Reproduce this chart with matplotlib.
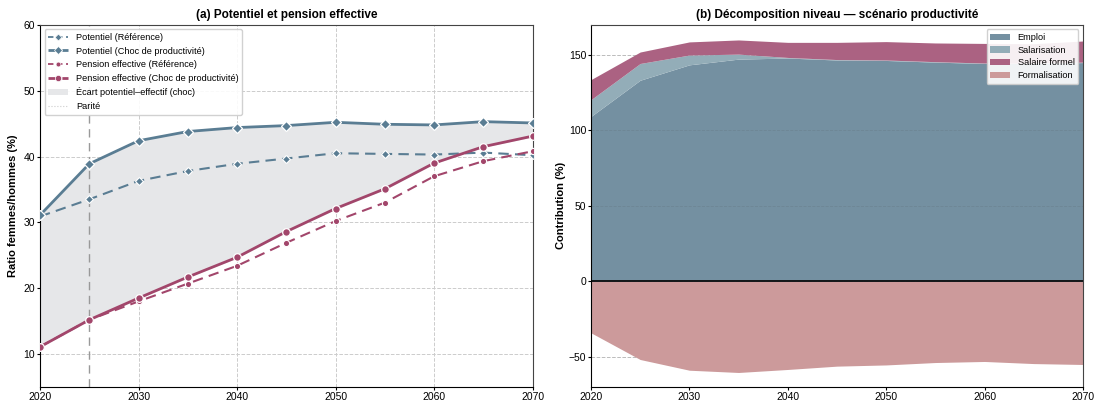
import matplotlib
matplotlib.use("Agg")
import matplotlib.pyplot as plt
from matplotlib.lines import Line2D
from matplotlib.patches import Patch
import numpy as np

plt.rcParams['font.family'] = ['Liberation Sans', 'DejaVu Sans']

years = [2020, 2025, 2030, 2035, 2040, 2045, 2050, 2055, 2060, 2065, 2070]

pot_ref = [30.9, 33.5, 36.3, 37.8, 38.9, 39.7, 40.5, 40.4, 40.3, 40.6, 40.2]
pot_choc = [31.1, 38.9, 42.4, 43.8, 44.4, 44.7, 45.2, 44.9, 44.8, 45.3, 45.1]
pen_ref = [11.1, 15.2, 18.0, 20.7, 23.4, 26.9, 30.2, 33.0, 37.0, 39.3, 40.8]
pen_choc = [11.1, 15.2, 18.5, 21.7, 24.7, 28.6, 32.1, 35.1, 39.0, 41.5, 43.1]

emploi = [109.3, 133.3, 143.5, 147.3, 148.0, 146.7, 146.4, 145.3, 144.4, 144.4, 145.0]
salarisation = [11.1, 11.1, 6.5, 3.3, 0.4, 0.3, 0.3, 0.3, 0.3, 0.3, 0.3]
salaire_formel = [13.3, 7.6, 8.7, 9.4, 10.0, 11.4, 12.2, 12.4, 13.0, 12.8, 14.0]
formalisation = [-34.1, -51.8, -58.9, -60.4, -58.4, -56.2, -55.4, -53.8, -53.1, -54.5, -55.1]

BLUE = '#5a7d93'
PINK = '#a2466b'

fig = plt.figure(figsize=(10.97, 4.01), dpi=100)
ax1 = fig.add_axes([0.0365, 0.035, 0.449, 0.903])
ax2 = fig.add_axes([0.5387, 0.035, 0.4485, 0.903])

# ---- Panel a
ax1.grid(True, linestyle='--', color='#cccccc', linewidth=0.7)
ax1.set_axisbelow(True)
ax1.fill_between(years, pen_choc, pot_choc, color='#e6e7e9', zorder=1)
ax1.axvline(2025, color='#999999', linestyle=(0, (6, 4)), linewidth=1.0, zorder=1.5)
ax1.axhline(100, color='#cccccc', linestyle=':', linewidth=0.8)
ax1.plot(years, pot_ref, color=BLUE, linestyle=(0, (5, 3)), linewidth=1.5, marker='D',
         markersize=4.5, markeredgecolor='white', markeredgewidth=0.8, zorder=3)
ax1.plot(years, pot_choc, color=BLUE, linestyle='-', linewidth=2.0, marker='D',
         markersize=5.5, markeredgecolor='white', markeredgewidth=0.9, zorder=3)
ax1.plot(years, pen_ref, color=PINK, linestyle=(0, (5, 3)), linewidth=1.5, marker='o',
         markersize=4.5, markeredgecolor='white', markeredgewidth=0.8, zorder=3)
ax1.plot(years, pen_choc, color=PINK, linestyle='-', linewidth=2.0, marker='o',
         markersize=5.5, markeredgecolor='white', markeredgewidth=0.9, zorder=3)
ax1.set_xlim(2020, 2070)
ax1.set_ylim(5, 60)
ax1.set_yticks([10, 20, 30, 40, 50, 60])
ax1.set_xticks([2020, 2030, 2040, 2050, 2060, 2070])
ax1.set_ylabel('Ratio femmes/hommes (%)', fontsize=8, fontweight='bold', labelpad=4)
ax1.set_title('(a) Potentiel et pension effective', fontsize=8.5, fontweight='bold', pad=5)
ax1.tick_params(labelsize=7.5, length=2, pad=1.5)

handles = [
    Line2D([], [], color=BLUE, linestyle=(0, (3, 2)), linewidth=1.3, marker='D', markersize=3.5,
           markeredgecolor='white', markeredgewidth=0.5),
    Line2D([], [], color=BLUE, linestyle=(0, (3, 2)), linewidth=2.0, marker='D', markersize=4.5,
           markeredgecolor='white', markeredgewidth=0.5),
    Line2D([], [], color=PINK, linestyle=(0, (3, 2)), linewidth=1.3, marker='o', markersize=3.5,
           markeredgecolor='white', markeredgewidth=0.5),
    Line2D([], [], color=PINK, linestyle=(0, (3, 2)), linewidth=2.0, marker='o', markersize=4.5,
           markeredgecolor='white', markeredgewidth=0.5),
    Patch(facecolor='#e6e7e9', edgecolor='none'),
    Line2D([], [], color='#cccccc', linestyle=':', linewidth=0.8),
]
labels = ['Potentiel (Référence)', 'Potentiel (Choc de productivité)',
          'Pension effective (Référence)', 'Pension effective (Choc de productivité)',
          'Écart potentiel–effectif (choc)', 'Parité']
ax1.legend(handles, labels, loc='upper left', fontsize=6.6, frameon=True, framealpha=0.9,
           edgecolor='#cccccc', handlelength=2.2, borderaxespad=0.5, labelspacing=0.5)

# ---- Panel b
ax2.grid(True, axis='y', linestyle='--', color='#bbbbbb', linewidth=0.7)
ax2.set_axisbelow(True)
e = np.array(emploi)
s = np.array(salarisation)
w = np.array(salaire_formel)
f = np.array(formalisation)
ax2.fill_between(years, 0, e, color='#7490a1', linewidth=0, label='Emploi', zorder=1)
ax2.fill_between(years, e, e + s, color='#93adb8', linewidth=0, label='Salarisation', zorder=1)
ax2.fill_between(years, e + s, e + s + w, color='#ab6282', linewidth=0, label='Salaire formel', zorder=1)
ax2.fill_between(years, 0, f, color='#cc9a9b', linewidth=0, label='Formalisation', zorder=1)
for yv in [50, 100]:
    ax2.axhline(yv, color='#6a7f8c', linestyle='--', linewidth=0.6, zorder=1.5, alpha=0.6)
ax2.axhline(0, color='black', linewidth=1.2, zorder=2)
ax2.set_xlim(2020, 2070)
ax2.set_ylim(-70, 170)
ax2.set_yticks([-50, 0, 50, 100, 150])
ax2.set_xticks([2020, 2030, 2040, 2050, 2060, 2070])
ax2.set_ylabel('Contribution (%)', fontsize=8, fontweight='bold', labelpad=2)
ax2.set_title('(b) Décomposition niveau — scénario productivité', fontsize=8.5, fontweight='bold', pad=5)
ax2.tick_params(labelsize=7.5, length=2, pad=1.5)
ax2.legend(loc='upper right', fontsize=6.6, frameon=True, framealpha=0.9, edgecolor='#cccccc',
           handlelength=2.2, borderaxespad=0.5, labelspacing=0.4)

for ax in (ax1, ax2):
    for side in ('left', 'bottom'):
        ax.spines[side].set_color('black')
    for side in ('right', 'top'):
        ax.spines[side].set_color('#444444')

fig.savefig('out.png', dpi=100)
